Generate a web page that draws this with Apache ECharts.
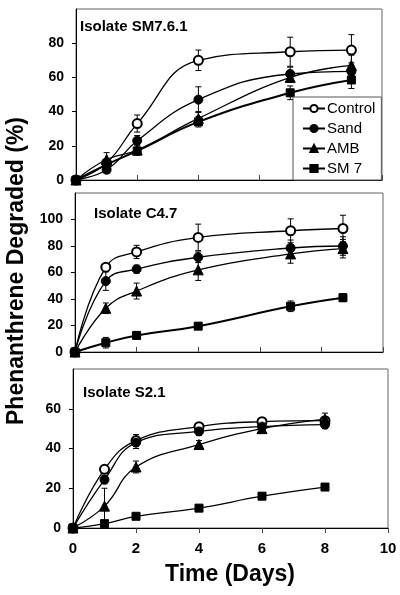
<!DOCTYPE html>
<html>
<head>
<meta charset="utf-8">
<script src="https://cdn.jsdelivr.net/npm/echarts@6/dist/echarts.min.js"></script>
<style>html,body{margin:0;padding:0;background:#fff}#c{width:400px;height:595px}</style>
</head>
<body>
<div id="c"></div>
<script>
// ---- data ----
const seriesNames = ['Control', 'Sand', 'AMB', 'SM 7'];
const panelTitles = ['Isolate SM7.6.1', 'Isolate C4.7', 'Isolate S2.1'];
const xTicks = [0, 2, 4, 6, 8, 10];
const yMax = [100, 120, 80];

const days1 = [0, 1, 2, 4, 7, 9];
const control1 = [0, 10, 33, 70, 75, 76];
const controlErr1 = [0, 2, 5, 6, 8.5, 9];
const sand1 = [0, 6, 23, 47, 62, 63.5];
const sandErr1 = [0, 2, 3, 7.5, 4, 5];
const amb1 = [0, 12, 17.5, 36, 60, 67];
const ambErr1 = [0, 4, 3, 4, 3, 6];
const sm7_1 = [0, 9, 17, 34, 51, 58.5];
const sm7Err1 = [0, 3, 2, 3, 4, 5];

const days2 = [0, 1, 2, 4, 7, 8.7];
const control2 = [0, 64, 75.5, 86.5, 91.5, 93.2];
const controlErr2 = [0, 2, 5, 10, 9, 10];
const sand2 = [0, 53.5, 62.5, 71.5, 78.5, 80];
const sandErr2 = [0, 7, 3, 4, 6, 7];
const amb2 = [0, 33, 46, 62, 74, 78];
const ambErr2 = [0, 4, 6, 8, 7, 7];
const sm7_2 = [0, 7, 12.5, 19.5, 34.5, 41];
const sm7Err2 = [0, 4, 3, 1, 4, 3];

const days3 = [0, 1, 2, 4, 6, 8];
const control3 = [0, 29.5, 44, 51, 53.5, 54];
const controlErr3 = [0, 2, 3, 2, 1.5, 2];
const sand3 = [0, 24.3, 43, 48.6, 51, 52];
const sandErr3 = [0, 2, 3, 2, 1, 2];
const amb3 = [0, 11, 30.7, 42, 50, 54.8];
const ambErr3 = [0, 9, 3, 2, 2, 3];
const sm7_3 = [0, 2.2, 5.9, 10, 16, 20.6];
const sm7Err3 = [0, 0, 0, 0, 0, 0];

// ---- build ----
const FONT = "'Liberation Sans', Arial, sans-serif";
const panels = [
  {days: days1, vals: [control1, sand1, amb1, sm7_1], errs: [controlErr1, sandErr1, ambErr1, sm7Err1]},
  {days: days2, vals: [control2, sand2, amb2, sm7_2], errs: [controlErr2, sandErr2, ambErr2, sm7Err2]},
  {days: days3, vals: [control3, sand3, amb3, sm7_3], errs: [controlErr3, sandErr3, ambErr3, sm7Err3]}
];
const grids = [
  {left: 76, right: 18, top: 9, height: 171},
  {left: 75, right: 17, top: 193, height: 159},
  {left: 73, right: 12, top: 369, height: 159}
];
const symbols = ['emptyCircle', 'circle', 'triangle', 'rect'];
const symSize = [9, 9, 10, 8];

const xAxes = grids.map((g, i) => ({
  type: 'value', gridIndex: i, min: xTicks[0], max: xTicks[xTicks.length - 1], interval: 2,
  axisLine: {show: true, lineStyle: {color: '#000', width: 1}},
  axisTick: {show: true, inside: i < 2, length: 5, lineStyle: {color: '#444'}},
  splitLine: {show: false},
  axisLabel: {show: i === 2, margin: 13, fontFamily: FONT, fontWeight: 'bold', fontSize: 15, color: '#000'}
}));
const yAxes = grids.map((g, i) => ({
  type: 'value', gridIndex: i, min: 0, max: yMax[i], interval: 20,
  axisLine: {show: true, lineStyle: {color: '#000', width: 1}},
  axisTick: {show: true, length: 4, lineStyle: {color: '#000'}},
  splitLine: {show: false},
  axisLabel: {showMaxLabel: false, margin: 12, fontFamily: FONT, fontWeight: 'bold', fontSize: 14, color: '#000'}
}));

const series = [];
panels.forEach((p, pi) => {
  p.vals.forEach((vals, si) => {
    series.push({
      name: seriesNames[si], type: 'line', xAxisIndex: pi, yAxisIndex: pi,
      data: p.days.map((d, k) => [d, vals[k]]),
      smooth: 0.45, symbol: symbols[si], symbolSize: symSize[si],
      lineStyle: {color: '#000', width: si === 3 && pi < 2 ? 2 : 1.3},
      itemStyle: {color: '#000', borderColor: '#000', borderWidth: 1},
      z: 3
    });
    series.push({
      name: 'err' + pi + si, type: 'custom', xAxisIndex: pi, yAxisIndex: pi,
      data: p.days.map((d, k) => [d, vals[k], p.errs[si][k]]),
      encode: {x: 0, y: 1}, z: 2, silent: true,
      renderItem: function (params, api) {
        const x = api.value(0), y = api.value(1), e = api.value(2);
        if (!e) return null;
        const top = api.coord([x, y + e]);
        const bot = api.coord([x, y - e]);
        const w = 3;
        const st = {stroke: '#000', lineWidth: 1};
        return {type: 'group', children: [
          {type: 'line', shape: {x1: top[0], y1: top[1], x2: bot[0], y2: bot[1]}, style: st},
          {type: 'line', shape: {x1: top[0] - w, y1: top[1], x2: top[0] + w, y2: top[1]}, style: st},
          {type: 'line', shape: {x1: bot[0] - w, y1: bot[1], x2: bot[0] + w, y2: bot[1]}, style: st}
        ]};
      }
    });
  });
});

const titlePos = [[80, 26.5], [94, 214], [83, 393]];
const graphics = panelTitles.map((t, i) => ({
  type: 'text', x: titlePos[i][0], y: titlePos[i][1], z: 10,
  style: {text: t, fontFamily: FONT, fontWeight: 'bold', fontSize: 15, fill: '#000', textAlign: 'left', textVerticalAlign: 'middle'}
}));
graphics.push({
  type: 'text', x: 17, y: 271, rotation: Math.PI / 2,
  style: {text: 'Phenanthrene Degraded (%)', fontFamily: FONT, fontWeight: 'bold', fontSize: 23, fill: '#000', textAlign: 'center', textVerticalAlign: 'middle'}
});
graphics.push({
  type: 'text', x: 230, y: 575,
  style: {text: 'Time (Days)', fontFamily: FONT, fontWeight: 'bold', fontSize: 23, fill: '#000', textAlign: 'center', textVerticalAlign: 'middle'}
});

const chart = echarts.init(document.getElementById('c'), null, {renderer: 'canvas'});
chart.setOption({
  animation: false,
  backgroundColor: '#fff',
  grid: grids.map(g => Object.assign({show: true, borderColor: '#666', borderWidth: 1, backgroundColor: 'transparent'}, g)),
  xAxis: xAxes,
  yAxis: yAxes,
  legend: {
    data: seriesNames, orient: 'vertical', left: 293, top: 97, width: 91,
    padding: [4, 6, 4, 9], itemGap: 5, itemWidth: 22, itemHeight: 9,
    backgroundColor: '#fff', borderColor: '#555', borderWidth: 1, borderRadius: 0,
    textStyle: {fontFamily: FONT, fontSize: 15, color: '#000', lineHeight: 15, padding: [0, 0, 0, -3]},
    inactiveColor: '#000'
  },
  graphic: graphics,
  series: series
});
</script>
</body>
</html>
